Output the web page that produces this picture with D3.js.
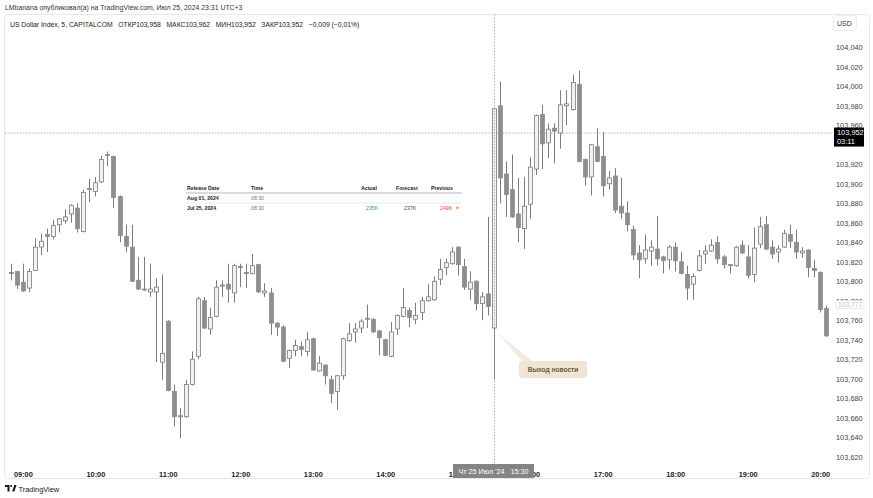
<!DOCTYPE html>
<html><head><meta charset="utf-8">
<script src="https://cdn.jsdelivr.net/npm/d3@7"></script>
<style>body{margin:0;background:#fff}svg{display:block;font-family:"Liberation Sans",Arial,sans-serif}</style>
</head><body><svg id="c" width="873" height="498"></svg>
<script>
// ---- data (5-minute candles, 25 Jul 2024, 08:50 → 20:05) ----
const startTime = "2024-07-25T08:50";
const open = [103.808,103.810,103.799,103.793,103.811,103.835,103.848,103.846,103.858,103.862,103.869,103.875,103.851,103.894,103.892,103.902,103.930,103.928,103.887,103.846,103.835,103.801,103.792,103.789,103.789,103.717,103.759,103.687,103.661,103.661,103.694,103.723,103.780,103.751,103.764,103.795,103.797,103.788,103.814,103.808,103.808,103.817,103.788,103.788,103.757,103.753,103.721,103.729,103.733,103.728,103.741,103.708,103.714,103.699,103.687,103.703,103.739,103.748,103.752,103.761,103.761,103.749,103.740,103.723,103.751,103.764,103.770,103.761,103.768,103.780,103.781,103.802,103.814,103.818,103.835,103.815,103.792,103.800,103.777,103.787,103.752,103.980,103.910,103.894,103.869,103.854,103.879,103.915,103.971,103.942,103.957,103.952,103.980,103.976,104.002,103.925,103.907,103.938,103.928,103.900,103.908,103.877,103.870,103.853,103.829,103.823,103.831,103.833,103.825,103.822,103.835,103.820,103.807,103.797,103.811,103.828,103.831,103.840,103.825,103.817,103.816,103.837,103.825,103.807,103.838,103.858,103.835,103.830,103.835,103.848,103.840,103.829,103.832,103.813,103.809,103.772];
const high = [103.818,103.811,103.818,103.813,103.844,103.849,103.854,103.863,103.865,103.874,103.879,103.880,103.894,103.905,103.907,103.929,103.933,103.929,103.888,103.858,103.858,103.825,103.825,103.818,103.803,103.807,103.760,103.694,103.670,103.699,103.728,103.784,103.784,103.773,103.801,103.801,103.818,103.818,103.818,103.818,103.828,103.818,103.798,103.793,103.758,103.755,103.730,103.740,103.738,103.748,103.742,103.723,103.715,103.703,103.704,103.742,103.757,103.757,103.761,103.776,103.762,103.750,103.741,103.758,103.766,103.793,103.773,103.778,103.784,103.797,103.805,103.823,103.823,103.835,103.836,103.823,103.810,103.801,103.789,103.866,103.978,104.005,103.923,103.930,103.906,103.907,103.927,103.971,103.981,103.962,103.962,103.996,103.996,104.012,104.016,103.926,103.941,103.957,103.953,103.913,103.916,103.906,103.882,103.857,103.837,103.848,103.842,103.867,103.826,103.837,103.840,103.830,103.816,103.808,103.832,103.837,103.843,103.846,103.827,103.818,103.836,103.842,103.837,103.855,103.866,103.867,103.842,103.837,103.853,103.858,103.853,103.835,103.833,103.822,103.810,103.775];
const low = [103.801,103.792,103.789,103.789,103.811,103.827,103.830,103.843,103.850,103.859,103.860,103.850,103.850,103.881,103.887,103.901,103.918,103.875,103.840,103.830,103.799,103.791,103.790,103.784,103.717,103.699,103.687,103.651,103.639,103.660,103.693,103.720,103.751,103.745,103.763,103.784,103.778,103.778,103.794,103.793,103.807,103.788,103.784,103.745,103.744,103.717,103.711,103.723,103.723,103.723,103.708,103.707,103.694,103.675,103.668,103.699,103.738,103.737,103.747,103.752,103.747,103.724,103.723,103.722,103.745,103.763,103.753,103.756,103.760,103.779,103.780,103.796,103.806,103.817,103.806,103.791,103.781,103.770,103.760,103.765,103.699,103.880,103.866,103.865,103.840,103.833,103.864,103.909,103.915,103.926,103.921,103.936,103.960,103.975,103.922,103.898,103.888,103.922,103.887,103.894,103.870,103.864,103.851,103.822,103.803,103.818,103.816,103.816,103.808,103.812,103.810,103.807,103.781,103.781,103.810,103.818,103.830,103.818,103.813,103.808,103.815,103.828,103.803,103.799,103.834,103.832,103.823,103.819,103.834,103.834,103.823,103.824,103.804,103.804,103.768,103.743];
const close = [103.809,103.796,103.790,103.810,103.835,103.841,103.846,103.857,103.864,103.866,103.878,103.854,103.891,103.895,103.901,103.925,103.929,103.886,103.847,103.836,103.800,103.792,103.791,103.792,103.794,103.726,103.688,103.661,103.662,103.694,103.720,103.782,103.752,103.763,103.794,103.796,103.792,103.816,103.815,103.809,103.816,103.789,103.790,103.757,103.753,103.718,103.729,103.734,103.730,103.740,103.709,103.716,103.703,103.685,103.703,103.741,103.746,103.751,103.759,103.762,103.748,103.742,103.724,103.748,103.765,103.773,103.763,103.765,103.780,103.784,103.800,103.812,103.819,103.830,103.817,103.794,103.799,103.777,103.784,103.774,103.977,103.906,103.889,103.866,103.855,103.877,103.917,103.970,103.941,103.956,103.954,103.981,103.982,104.004,103.923,103.907,103.940,103.923,103.898,103.906,103.873,103.870,103.858,103.827,103.822,103.832,103.835,103.823,103.821,103.835,103.821,103.808,103.793,103.805,103.826,103.831,103.837,103.823,103.817,103.816,103.835,103.829,103.806,103.834,103.856,103.833,103.828,103.833,103.849,103.841,103.830,103.831,103.814,103.811,103.771,103.744];
const priceTicks = [103.620,103.640,103.660,103.680,103.700,103.720,103.740,103.760,103.780,103.800,103.820,103.840,103.860,103.880,103.900,103.920,103.940,103.960,103.980,104.000,104.020,104.040];
const lastPrice = 103.952, markPrice = 103.777;
const newsTime = "2024-07-25T15:30";
const tableHeader = ["Release Date","Time","Actual","Forecast","Previous"];
const tableRows = [["Aug 01, 2024","08:30","","",""],["Jul 25, 2024","08:30","235K","237K","249K"]];

// ---- build ----
const parse = d3.timeParse("%Y-%m-%dT%H:%M");
const t0 = parse(startTime);
const times = open.map((_, i) => d3.timeMinute.offset(t0, 5 * i));
const candles = times.map((t, i) => ({t, o: open[i], h: high[i], l: low[i], c: close[i]}));

const svg = d3.select("#c");
const x = d3.scaleTime().domain([t0, times[times.length - 1]]).range([10.8, 826.2]);
const y = d3.scaleLinear().domain([103.620, 104.040]).range([456.7, 47.3]);
const fmt = d3.format(".3f");
const ru = v => fmt(v).replace(".", ",");

// frame
svg.append("rect").attr("x", 4.5).attr("y", 14.5).attr("width", 865).attr("height", 464)
  .attr("rx", 3).attr("fill", "none").attr("stroke", "#e6e8ee");

// header texts
svg.append("text").attr("x", 5).attr("y", 10).attr("font-size", 6.9).attr("fill", "#333")
  .text("LMbanana опубликовал(а) на TradingView.com, Июл 25, 2024 23:31 UTC+3");
svg.append("text").attr("x", 10).attr("y", 26.5).attr("font-size", 6.8).attr("fill", "#222")
  .attr("xml:space", "preserve").style("white-space", "pre")
  .text("US Dollar Index, 5, CAPITALCOM   ОТКР103,958   МАКС103,962   МИН103,952   ЗАКР103,952   −0,009 (−0,01%)");

// last price dotted line
svg.append("line").attr("x1", 5).attr("x2", 832).attr("y1", y(lastPrice)).attr("y2", y(lastPrice))
  .attr("stroke", "#a0a0a0").attr("stroke-width", 0.8).attr("stroke-dasharray", "1.5,1.5");

// candles
const g = svg.append("g");
const bw = 4;
g.selectAll("line.w").data(candles).join("line").attr("class", "w")
  .attr("x1", d => Math.round(x(d.t)) + 0.5).attr("x2", d => Math.round(x(d.t)) + 0.5)
  .attr("y1", d => y(d.h)).attr("y2", d => y(d.l))
  .attr("stroke", "#7c7c7c").attr("stroke-width", 1);
g.selectAll("rect.b").data(candles).join("rect").attr("class", "b")
  .attr("x", d => Math.round(x(d.t)) + 0.5 - bw / 2)
  .attr("y", d => y(Math.max(d.o, d.c)))
  .attr("width", bw)
  .attr("height", d => Math.max(1, Math.abs(y(d.o) - y(d.c))))
  .attr("fill", d => d.c >= d.o ? "#f2f2f2" : "#8e8e8e")
  .attr("stroke", d => d.c >= d.o ? "#7c7c7c" : "#8e8e8e")
  .attr("stroke-width", 0.8);

// vertical crosshair
const xn = Math.round(x(parse(newsTime))) + 0.5;
svg.append("line").attr("x1", xn).attr("x2", xn).attr("y1", 15).attr("y2", 464)
  .attr("stroke", "#9a9a9a").attr("stroke-width", 0.8).attr("stroke-dasharray", "1.5,1.5");

// table overlay
const tg = svg.append("g").attr("font-size", 5.2);
const cols = [187, 251, 361, 396, 431];
tableHeader.forEach((h, i) => tg.append("text").attr("x", cols[i]).attr("y", 189.5).attr("font-weight", "bold").attr("fill", "#222").text(h));
tg.append("line").attr("x1", 186).attr("x2", 462).attr("y1", 193).attr("y2", 193).attr("stroke", "#999").attr("stroke-width", 0.7);
tg.append("line").attr("x1", 186).attr("x2", 462).attr("y1", 203).attr("y2", 203).attr("stroke", "#ddd").attr("stroke-width", 0.7);
const valCols = [187, 251, 366, 404, 440];
const valColors = ["#222", "#777", "#3a9e45", "#444", "#e0413a"];
tableRows.forEach((r, j) => r.forEach((v, i) => {
  if (!v) return;
  tg.append("text").attr("x", valCols[i]).attr("y", 200.3 + j * 9.3)
    .attr("font-weight", i === 0 ? "bold" : "normal").attr("fill", valColors[i]).text(v);
}));
tg.append("circle").attr("cx", 457.5).attr("cy", 207.8).attr("r", 1.4).attr("fill", "#f0a43a");

// callout
svg.append("path").attr("d", `M${xn + 3},${y(open[80]) + 5} L${522},${361} L${532},${361} Z`)
  .attr("fill", "#f3e9dd");
svg.append("rect").attr("x", 519).attr("y", 361).attr("width", 68).attr("height", 17).attr("rx", 3)
  .attr("fill", "#f1e4d5");
svg.append("text").attr("x", 553).attr("y", 372).attr("text-anchor", "middle").attr("font-size", 6.6)
  .attr("font-weight", "bold").attr("fill", "#6b5846").text("Выход новости");

// right axis (labels hidden behind the last-price box are not drawn)
const hidden = v => Math.abs(y(v) - (y(lastPrice) + 4)) < 10;
const ax = svg.append("g").attr("transform", "translate(832,0)")
  .call(d3.axisRight(y).tickValues(priceTicks.filter(v => !hidden(v))).tickSize(0).tickPadding(4).tickFormat(ru));
ax.select(".domain").remove();
ax.selectAll("text").attr("font-size", 7.4).attr("fill", "#444").attr("font-family", "Liberation Sans, Arial, sans-serif");

// USD box
svg.append("rect").attr("x", 833.5).attr("y", 15.5).attr("width", 23).attr("height", 15).attr("rx", 2)
  .attr("fill", "#fff").attr("stroke", "#eceef2");
svg.append("text").attr("x", 837).attr("y", 25.5).attr("font-size", 7).attr("fill", "#333").text("USD");

// mark price box
svg.append("rect").attr("x", 836).attr("y", y(markPrice) - 3).attr("width", 28).attr("height", 8)
  .attr("fill", "#fff").attr("stroke", "#e2e4ea").attr("stroke-width", 0.7);
svg.append("text").attr("x", 838).attr("y", y(markPrice) + 3.4).attr("font-size", 6.8).attr("fill", "#c4c4c4").text(ru(markPrice));

// last price box
svg.append("rect").attr("x", 834).attr("y", y(lastPrice) - 5.5).attr("width", 30).attr("height", 19).attr("fill", "#000");
svg.append("text").attr("x", 837).attr("y", y(lastPrice) + 2.3).attr("font-size", 7.4).attr("fill", "#fff").text(ru(lastPrice));
svg.append("text").attr("x", 837).attr("y", y(lastPrice) + 10.5).attr("font-size", 7.4).attr("fill", "#fff").text("03:11");

// bottom axis
const bx = svg.append("g").attr("transform", "translate(0,464)")
  .call(d3.axisBottom(x).ticks(d3.timeHour.every(1)).tickSize(0).tickPadding(8).tickFormat(d3.timeFormat("%H:%M")));
bx.select(".domain").remove();
bx.selectAll("text").attr("font-size", 7.4).attr("font-weight", "bold").attr("fill", "#222").attr("font-family", "Liberation Sans, Arial, sans-serif");

// crosshair time label
svg.append("rect").attr("x", 453).attr("y", 464).attr("width", 81).attr("height", 14).attr("fill", "#848484");
svg.append("text").attr("x", 493.5).attr("y", 473.5).attr("text-anchor", "middle").attr("font-size", 7.2)
  .attr("fill", "#fff").attr("xml:space", "preserve").style("white-space", "pre").text("Чт 25 Июл '24   15:30");

// logo
const lg = svg.append("g").attr("transform", "translate(5,485)");
lg.append("path").attr("d", "M0,0 H4.5 V6.5 H2.5 V2 H0 Z").attr("fill", "#131722");
lg.append("circle").attr("cx", 6.2).attr("cy", 1).attr("r", 1).attr("fill", "#131722");
lg.append("path").attr("d", "M7.2,6.5 L9.3,0 H11.5 L9.4,6.5 Z").attr("fill", "#131722");
lg.append("text").attr("x", 13.5).attr("y", 6.5).attr("font-size", 7.4).attr("fill", "#131722").text("TradingView");
</script></body></html>
